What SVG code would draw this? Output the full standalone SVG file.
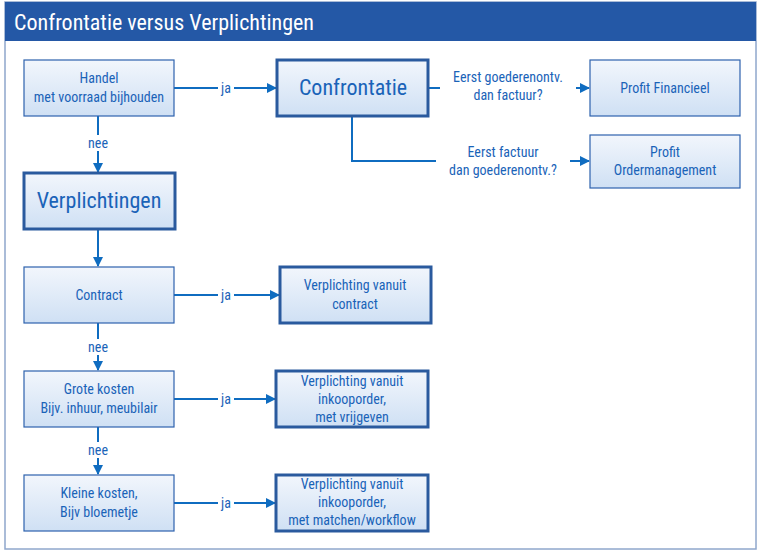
<svg xmlns="http://www.w3.org/2000/svg" width="760" height="551" viewBox="0 0 760 551">
<defs>
<linearGradient id="g" x1="0" y1="0" x2="0" y2="1"><stop offset="0" stop-color="#f2f6fc"/><stop offset="1" stop-color="#cfe0f4"/></linearGradient>
<marker id="a" markerWidth="10" markerHeight="10" refX="9" refY="5" orient="auto" markerUnits="userSpaceOnUse"><path d="M0,0 L10,5 L0,10 z" fill="#0f6cc0"/></marker>
</defs>
<style>
text{font-family:"Liberation Sans Narrow","Roboto Condensed","Liberation Sans",sans-serif;fill:#1a63b8;text-anchor:middle}
.t{font-size:14px}
.big{font-size:22px}
.n{fill:url(#g);stroke:#2d62ad;stroke-width:1.2}
.k{fill:url(#g);stroke:#2a5a9e;stroke-width:3}
.c{fill:none;stroke:#0f6cc0;stroke-width:2}
.lb{font-size:14px}
.bg{fill:#fff}
</style>
<rect x="5" y="2" width="751" height="547" fill="#fff" stroke="#8fa7cc" stroke-width="1.5"/>
<rect x="5" y="2" width="751" height="39" fill="#2458a6"/>
<text x="14" y="30" style="font-size:22px;fill:#fff;text-anchor:start">Confrontatie versus Verplichtingen</text>
<g id="connectors">
<path class="c" d="M174,88 H276" marker-end="url(#a)"/>
<path class="c" d="M428,88 H589" marker-end="url(#a)"/>
<path class="c" d="M352,116 V161 H589" marker-end="url(#a)"/>
<path class="c" d="M98,116 V172" marker-end="url(#a)"/>
<path class="c" d="M98,229 V266" marker-end="url(#a)"/>
<path class="c" d="M174,295 H279" marker-end="url(#a)"/>
<path class="c" d="M98,323 V370" marker-end="url(#a)"/>
<path class="c" d="M174,399 H275" marker-end="url(#a)"/>
<path class="c" d="M98,427 V474" marker-end="url(#a)"/>
<path class="c" d="M174,503 H275" marker-end="url(#a)"/>
<rect class="bg" x="218" y="80" width="16" height="16"/>
<text class="lb" x="226" y="93">ja</text>
<rect class="bg" x="440" y="66" width="136" height="38"/>
<text class="lb" x="508" y="82">Eerst goederenontv.</text>
<text class="lb" x="508" y="100">dan factuur?</text>
<rect class="bg" x="436" y="142" width="134" height="38"/>
<text class="lb" x="503" y="157">Eerst factuur</text>
<text class="lb" x="503" y="175">dan goederenontv.?</text>
<rect class="bg" x="84" y="135" width="28" height="16"/>
<text class="lb" x="98" y="148">nee</text>
<rect class="bg" x="218" y="287" width="16" height="16"/>
<text class="lb" x="226" y="300">ja</text>
<rect class="bg" x="84" y="339" width="28" height="16"/>
<text class="lb" x="98" y="352">nee</text>
<rect class="bg" x="218" y="391" width="16" height="16"/>
<text class="lb" x="226" y="404">ja</text>
<rect class="bg" x="84" y="442" width="28" height="16"/>
<text class="lb" x="98" y="455">nee</text>
<rect class="bg" x="218" y="495" width="16" height="16"/>
<text class="lb" x="226" y="508">ja</text>
</g>
<g id="handel"><rect class="n" x="24" y="60" width="150" height="56"/><text class="t" x="99" y="83">Handel</text><text class="t" x="99" y="102">met voorraad bijhouden</text></g>
<g id="confrontatie"><rect class="k" x="277" y="60" width="151" height="56"/><text class="big" x="353" y="95">Confrontatie</text></g>
<g id="profit-fin"><rect class="n" x="590" y="60" width="150" height="56"/><text class="t" x="665" y="93">Profit Financieel</text></g>
<g id="profit-ord"><rect class="n" x="590" y="135" width="150" height="53"/><text class="t" x="665" y="157">Profit</text><text class="t" x="665" y="175">Ordermanagement</text></g>
<g id="verplichtingen"><rect class="k" x="24" y="173" width="151" height="56"/><text class="big" x="99" y="208">Verplichtingen</text></g>
<g id="contract"><rect class="n" x="24" y="267" width="150" height="56"/><text class="t" x="99" y="300">Contract</text></g>
<g id="verpl-contract"><rect class="k" x="280" y="267" width="151" height="56"/><text class="t" x="355" y="290">Verplichting vanuit</text><text class="t" x="355" y="309">contract</text></g>
<g id="grote"><rect class="n" x="24" y="371" width="150" height="56"/><text class="t" x="99" y="394">Grote kosten</text><text class="t" x="99" y="413">Bijv. inhuur, meubilair</text></g>
<g id="verpl-vrij"><rect class="k" x="276" y="371" width="152" height="56"/><text class="t" x="352" y="386">Verplichting vanuit</text><text class="t" x="352" y="404">inkooporder,</text><text class="t" x="352" y="422">met vrijgeven</text></g>
<g id="kleine"><rect class="n" x="24" y="475" width="150" height="56"/><text class="t" x="99" y="498">Kleine kosten,</text><text class="t" x="99" y="517">Bijv bloemetje</text></g>
<g id="verpl-match"><rect class="k" x="276" y="475" width="152" height="56"/><text class="t" x="352" y="489">Verplichting vanuit</text><text class="t" x="352" y="507">inkooporder,</text><text class="t" x="352" y="525">met matchen/workflow</text></g>
</svg>
